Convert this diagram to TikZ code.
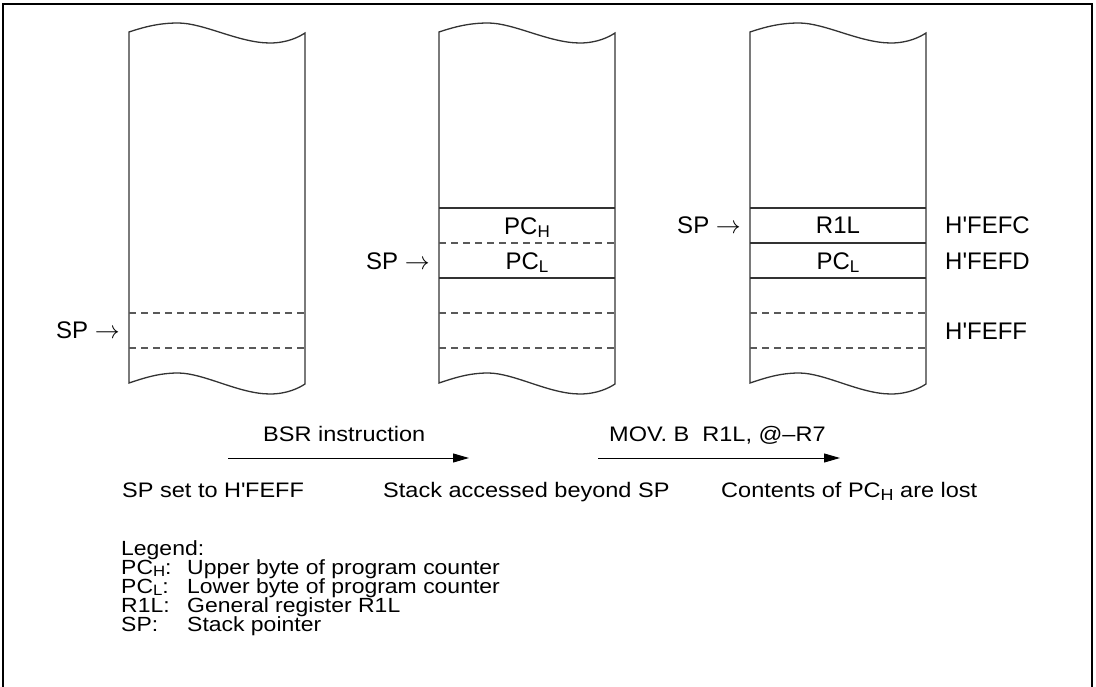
\documentclass[tikz,border=0pt]{standalone}
\usepackage{fontspec}
\setmainfont{Liberation Sans}
\newfontfamily\widefont[FakeStretch=1.12]{Liberation Sans}
\usetikzlibrary{arrows.meta}
\newcommand\lowsub[1]{\raisebox{-3pt}{\fontsize{17}{17}\selectfont #1}}
\newcommand\lowsubsmall[1]{\raisebox{-3pt}{\fontsize{16}{16}\selectfont #1}}
\newcommand\legsub[1]{\raisebox{-2pt}{\fontsize{15}{15}\selectfont #1}}
\newcommand\qq{\textquotesingle}
\begin{document}
\begin{tikzpicture}[x=1pt,y=-1pt,
 frameline/.style={line width=2pt,draw=black},
 stackline/.style={line width=1.3pt,draw=black!80},
 dashline/.style={line width=1.1pt,draw=black!65,dash pattern=on 7pt off 5pt},
 celltext/.style={font=\fontsize{24}{28}\selectfont, inner sep=0pt, anchor=base},
 addr/.style={font=\fontsize{24}{28}\selectfont, inner sep=0pt, anchor=base west},
 sptext/.style={font=\fontsize{24}{28}\selectfont, inner sep=0pt, anchor=base east},
 captext/.style={font=\widefont\fontsize{21}{25}\selectfont, inner sep=0pt, anchor=base west},
 legtext/.style={font=\widefont\fontsize{20.5}{24}\selectfont, inner sep=0pt, anchor=base west},
 flow/.style={line width=1pt,-{Triangle[length=16pt,width=9pt]}}
]
\useasboundingbox (0,0) rectangle (1096,687);
% frame
\draw[frameline] (3,690) -- (3,4) -- (1092,4) -- (1092,690);
% stack columns
\foreach \cx in {129,439,750}{
\begin{scope}[shift={(\cx,0)}]
\draw[stackline] (0,32) .. controls (15,27) and (30,23) .. (49,23)
  .. controls (75,23) and (110,43) .. (141,43)
  .. controls (158,43) and (170,37) .. (176,33)
  -- (176,384)
  .. controls (170,388) and (158,394) .. (141,394)
  .. controls (110,394) and (75,373) .. (49,373)
  .. controls (30,373) and (15,378) .. (0,383) -- cycle;
\draw[dashline] (0,313) -- (176,313) (0,348) -- (176,348);
\end{scope}}
% column 2 cells
\draw[stackline] (439,208) -- (615,208) (439,278) -- (615,278);
\draw[dashline] (439,243) -- (615,243);
% column 3 cells
\draw[stackline] (750,208) -- (926,208) (750,243) -- (926,243) (750,278) -- (926,278);
% cell texts
\node[celltext] (pch2) at (527,235) {PC\lowsub{H}};
\node[celltext] (pcl2) at (527,270) {PC\lowsub{L}};
\node[celltext] (r1l3) at (838,234) {R1L};
\node[celltext] (pcl3) at (838,270) {PC\lowsub{L}};
% addresses
\node[addr] (fefc) at (945,234) {H\qq FEFC};
\node[addr] (fefd) at (945,270) {H\qq FEFD};
\node[addr] (feff) at (945,340) {H\qq FEFF};
% SP pointers
\node[sptext] (sp1) at (120,338) {SP $\rightarrow$};
\node[sptext] (sp2) at (430,270) {SP $\rightarrow$};
\node[sptext] (sp3) at (741,234) {SP $\rightarrow$};
% transitions
\coordinate (a1s) at (228,458);
\coordinate (a1e) at (469,458);
\coordinate (a2s) at (598,458);
\coordinate (a2e) at (840,458);
\draw[flow] (a1s) -- (a1e);
\draw[flow] (a2s) -- (a2e);
\node[captext] (bsr) at (263,441) {BSR instruction};
\node[captext] (mov) at (609,441) {MOV. B\hspace{13pt}R1L, @–R7};
\node[captext] (st1) at (122,497) {SP set to H\qq FEFF};
\node[captext] (st2) at (383,497) {Stack accessed beyond SP};
\node[captext] (st3) at (721,497) {Contents of PC\lowsubsmall{H} are lost};
% legend
\node[legtext] (leg) at (121,555) {Legend:};
\node[legtext] (l1a) at (121,574) {PC\legsub{H}:};
\node[legtext] (l1b) at (187,574) {Upper byte of program counter};
\node[legtext] (l2a) at (121,593) {PC\legsub{L}:};
\node[legtext] (l2b) at (187,593) {Lower byte of program counter};
\node[legtext] (l3a) at (121,612) {R1L:};
\node[legtext] (l3b) at (187,612) {General register R1L};
\node[legtext] (l4a) at (121,631) {SP:};
\node[legtext] (l4b) at (187,631) {Stack pointer};
\end{tikzpicture}
\end{document}
